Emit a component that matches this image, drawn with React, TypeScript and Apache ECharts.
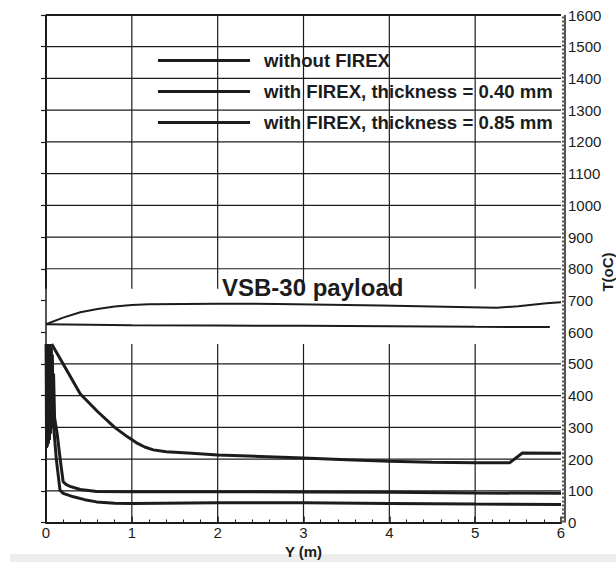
import React, { useEffect, useRef } from "react";
import * as echarts from "echarts";

// ---- data ----
const seriesNames = [
  "without FIREX",
  "with FIREX, thickness = 0.40 mm",
  "with FIREX, thickness = 0.85 mm",
];

const withoutFirex: [number, number][] = [
  [0.066, 563], [0.2, 500], [0.4, 405], [0.6, 350], [0.8, 300], [0.95, 270],
  [1.05, 252], [1.15, 238], [1.25, 229], [1.4, 223], [1.7, 218], [2, 213],
  [2.5, 208], [3, 203], [3.5, 198], [4, 193], [4.5, 190], [5, 188], [5.4, 188],
  [5.55, 219], [6, 218],
];

const firex040: [number, number][] = [
  [0.004, 563], [0.009, 250], [0.014, 563], [0.02, 255], [0.026, 563], [0.032, 265],
  [0.038, 563], [0.044, 280], [0.05, 560], [0.056, 295], [0.062, 550], [0.068, 310],
  [0.074, 530], [0.08, 330], [0.088, 470], [0.1, 330], [0.13, 280], [0.165, 200],
  [0.2, 128], [0.24, 119], [0.28, 114], [0.4, 104], [0.59, 98], [1, 97], [2, 97],
  [3, 96], [4, 95], [5, 93], [6, 92],
];

const firex085: [number, number][] = [
  [0.002, 563], [0.006, 235], [0.011, 563], [0.016, 240], [0.022, 563], [0.028, 248],
  [0.034, 563], [0.04, 260], [0.046, 555], [0.052, 280], [0.058, 540], [0.064, 300],
  [0.07, 510], [0.076, 320], [0.082, 420], [0.09, 300], [0.12, 200], [0.163, 102],
  [0.2, 92], [0.32, 81], [0.45, 72], [0.59, 65], [0.8, 61], [1, 60], [2, 62],
  [3, 62], [4, 60], [5, 58], [6, 57],
];

const payloadTop: [number, number][] = [
  [0, 625], [0.2, 646], [0.4, 663], [0.6, 673], [0.8, 681], [1.0, 686], [1.2, 688],
  [2, 690], [2.7, 689], [3.9, 684], [5.25, 677], [5.5, 682], [5.83, 691], [6, 694],
];
const payloadBottom: [number, number][] = [
  [0, 625], [1, 622], [2, 621], [3, 620], [4, 619], [5, 617], [5.87, 616],
];

const xMin = 0, xMax = 6, xStep = 1;
const yMin = 0, yMax = 1600, yStep = 100;
const hGridValues = [100, 200, 300, 400, 500, 800, 900, 1000, 1100, 1200, 1300, 1400, 1500];
const vGridValues = [1, 2, 3, 4, 5];
const gapLow = 563;
const gapHigh = 737;

const FONT = '"Liberation Sans", Arial, Helvetica, sans-serif';
const INK = "#1c1c1c";

export default function App() {
  const ref = useRef<HTMLDivElement>(null);

  useEffect(() => {
    if (!ref.current) return;
    const chart = echarts.init(ref.current, undefined, { renderer: "svg" });

    const segs: number[][] = [
      ...hGridValues.map((v) => [xMin, v, xMax, v, 1.2]),
      ...vGridValues.flatMap((x) => [
        [x, yMin, x, gapLow, 1.2],
        [x, gapHigh, x, yMax, 1.2],
      ]),
      [xMin, yMin, xMin, gapLow, 2],
      [xMin, gapHigh, xMin, yMax, 2],
      [xMin, yMax, xMax, yMax, 2],
    ];

    const lineSeries = (name: string, data: [number, number][]) => ({
      name,
      type: "line",
      data,
      symbol: "none",
      showSymbol: false,
      color: INK,
      lineStyle: { color: INK, width: 3 },
      z: 4,
    });

    chart.setOption({
      animation: false,
      grid: { left: 46, right: 55, top: 15, bottom: 39.5, containLabel: false, outerBoundsMode: "none" },
      legend: {
        data: seriesNames,
        orient: "vertical",
        left: 158,
        top: 51,
        padding: 0,
        icon: "rect",
        itemWidth: 92,
        itemHeight: 3,
        itemGap: 12,
        selectedMode: false,
        textStyle: {
          fontFamily: FONT,
          fontSize: 18.6,
          fontWeight: "bold",
          color: INK,
          lineHeight: 18,
          padding: [0, 0, 0, 9],
        },
      },
      xAxis: {
        type: "value",
        min: xMin,
        max: xMax,
        interval: xStep,
        name: "Y (m)",
        nameLocation: "middle",
        nameGap: 16,
        nameTextStyle: { fontFamily: FONT, fontSize: 15, fontWeight: "bold", color: INK },
        axisLine: { show: true, lineStyle: { color: INK, width: 2 } },
        axisTick: { show: true, inside: true, length: 6, lineStyle: { color: INK, width: 1.5 } },
        minorTick: { show: true, splitNumber: 5, length: 3, lineStyle: { color: INK, width: 1 } },
        axisLabel: { fontFamily: FONT, fontSize: 15, color: INK, margin: 2, formatter: (v: number) => String(v) },
        splitLine: { show: false },
      },
      yAxis: {
        type: "value",
        position: "right",
        min: yMin,
        max: yMax,
        interval: yStep,
        axisLine: { show: true, lineStyle: { color: INK, width: 1.5 } },
        axisTick: { show: true, inside: true, length: 5, lineStyle: { color: INK, width: 1.2 } },
        axisLabel: {
          fontFamily: FONT,
          fontSize: 15,
          color: INK,
          margin: 7,
          padding: [6, 0, 0, 0],
          formatter: (v: number) => String(v),
        },
        splitLine: { show: false },
      },
      graphic: [
        {
          type: "rect",
          shape: { x: 10, y: 554, width: 606, height: 8 },
          style: { fill: "#ececec" },
          z: -10,
        },
        {
          type: "text",
          x: 222,
          y: 287.5,
          style: {
            text: "VSB-30 payload",
            font: `bold 24px ${FONT}`,
            fill: INK,
            verticalAlign: "middle",
          },
          z: 10,
        },
        {
          type: "text",
          x: 607,
          y: 272,
          rotation: Math.PI / 2,
          style: {
            text: "T(oC)",
            font: `bold 15px ${FONT}`,
            fill: INK,
            align: "center",
            verticalAlign: "middle",
          },
          z: 10,
        },
      ],
      series: [
        {
          name: "grid",
          type: "custom",
          data: segs,
          encode: { x: [0, 2], y: [1, 3] },
          silent: true,
          z: 1,
          renderItem: (params: any, api: any) => {
            const p1 = api.coord([api.value(0), api.value(1)]);
            const p2 = api.coord([api.value(2), api.value(3)]);
            return {
              type: "line",
              shape: { x1: p1[0], y1: p1[1], x2: p2[0], y2: p2[1] },
              style: { stroke: INK, lineWidth: api.value(4) },
            };
          },
        },
        {
          name: "ruler",
          type: "custom",
          data: [[xMax, yMin, xMax, yMax]],
          encode: { x: [0, 2], y: [1, 3] },
          silent: true,
          z: 2,
          renderItem: (params: any, api: any) => {
            const p1 = api.coord([api.value(0), api.value(1)]);
            const p2 = api.coord([api.value(2), api.value(3)]);
            return {
              type: "group",
              children: [
                {
                  type: "line",
                  shape: { x1: p1[0] + 4, y1: p1[1], x2: p2[0] + 4, y2: p2[1] },
                  style: { stroke: INK, lineWidth: 1.5 },
                },
                {
                  type: "line",
                  shape: { x1: p1[0] + 2, y1: p1[1], x2: p2[0] + 2, y2: p2[1] },
                  style: { stroke: "#555", lineWidth: 2, lineDash: [2, 2] },
                },
              ],
            };
          },
        },
        {
          name: "payloadTop",
          type: "line",
          data: payloadTop,
          symbol: "none",
          lineStyle: { color: INK, width: 2 },
          color: INK,
          z: 3,
        },
        {
          name: "payloadBottom",
          type: "line",
          data: payloadBottom,
          symbol: "none",
          lineStyle: { color: INK, width: 2 },
          color: INK,
          z: 3,
        },
        lineSeries(seriesNames[0], withoutFirex),
        lineSeries(seriesNames[1], firex040),
        lineSeries(seriesNames[2], firex085),
      ],
    });

    return () => chart.dispose();
  }, []);

  return (
    <div
      ref={ref}
      style={{ position: "absolute", left: 0, top: 0, width: 616, height: 562, background: "#fff" }}
    />
  );
}
